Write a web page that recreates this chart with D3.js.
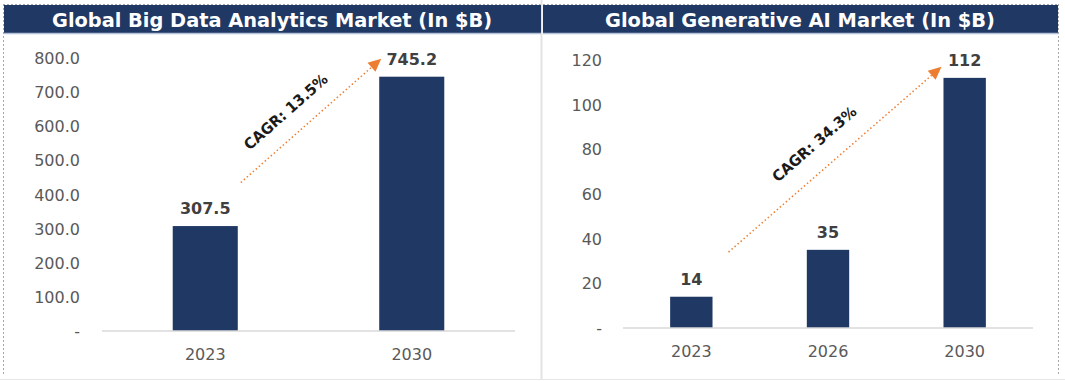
<!DOCTYPE html>
<html><head><meta charset="utf-8">
<script src="https://cdn.jsdelivr.net/npm/d3@7"></script>
<style>body{margin:0;background:#fff}svg{display:block}</style>
</head><body>
<svg id="c" width="1065" height="383"></svg>
<script>
// Data
const leftTitle = "Global Big Data Analytics Market (In $B)";
const leftCategories = ["2023", "2030"];
const leftValues = [307.5, 745.2];
const leftTicks = [0, 100, 200, 300, 400, 500, 600, 700, 800];
const leftCagr = "CAGR: 13.5%";

const rightTitle = "Global Generative AI Market (In $B)";
const rightCategories = ["2023", "2026", "2030"];
const rightValues = [14, 35, 112];
const rightTicks = [0, 20, 40, 60, 80, 100, 120];
const rightCagr = "CAGR: 34.3%";

const NAVY = "#1F3864", ORANGE = "#ED7D31", GRAY = "#595959";
const svg = d3.select("#c");

// frame
const g0 = svg.append("g");
g0.append("line").attr("x1",3.5).attr("x2",3.5).attr("y1",4).attr("y2",376).attr("stroke","#a6a6a6").attr("stroke-dasharray","2,2");
g0.append("line").attr("x1",3).attr("x2",541).attr("y1",4.5).attr("y2",4.5).attr("stroke","#a6a6a6").attr("stroke-dasharray","2,2");
g0.append("line").attr("x1",543).attr("x2",1059).attr("y1",4.5).attr("y2",4.5).attr("stroke","#a6a6a6").attr("stroke-dasharray","2,2");
g0.append("line").attr("x1",1058.5).attr("x2",1058.5).attr("y1",4).attr("y2",376).attr("stroke","#a6a6a6").attr("stroke-dasharray","2,2");
g0.append("line").attr("x1",541.5).attr("x2",541.5).attr("y1",0).attr("y2",380).attr("stroke","#e3e3e3").attr("stroke-width",2);
g0.append("line").attr("x1",0).attr("x2",1065).attr("y1",379.5).attr("y2",379.5).attr("stroke","#e6e6e6");

function panel(cfg){
  const g = svg.append("g");
  // title bar
  g.append("rect").attr("x",cfg.tx0).attr("y",5).attr("width",cfg.tx1-cfg.tx0).attr("height",28).attr("fill",NAVY);
  g.append("line").attr("x1",cfg.tx0).attr("x2",cfg.tx1).attr("y1",33.5).attr("y2",33.5).attr("stroke","#b4c0d8").attr("stroke-width",1.5);
  g.append("text").attr("x",cfg.tcx).attr("y",20).attr("text-anchor","middle").attr("dominant-baseline","central")
    .attr("fill","#fff").attr("font-family","DejaVu Sans").attr("font-weight","bold").attr("font-size",20)
    .attr("textLength",cfg.tlen).attr("lengthAdjust","spacingAndGlyphs").text(cfg.title);

  const x = d3.scaleBand().domain(cfg.cats).range(cfg.xr).paddingInner(cfg.pad).paddingOuter(cfg.pad/2);
  const y = d3.scaleLinear().domain([0, cfg.ticks[cfg.ticks.length-1]]).range(cfg.yr);

  // y axis labels
  const ya = d3.axisLeft(y).tickValues(cfg.ticks).tickSize(0).tickPadding(0).tickFormat(cfg.fmt);
  const yg = g.append("g").attr("transform",`translate(${cfg.ylabX},0)`).call(ya);
  yg.select(".domain").remove();
  yg.selectAll("text").attr("font-family","DejaVu Sans").attr("font-size",16).attr("fill",GRAY).attr("dy","0.35em");

  // bars
  g.selectAll("rect.bar").data(cfg.vals).join("rect").attr("class","bar")
    .attr("x",(d,i)=>x(cfg.cats[i])).attr("width",x.bandwidth())
    .attr("y",d=>y(d)).attr("height",d=>y(0)-y(d)).attr("fill",NAVY);

  // x axis
  const xa = d3.axisBottom(x).tickSize(0).tickPadding(18);
  const xg = g.append("g").attr("transform",`translate(0,${y(0)})`).call(xa);
  xg.select(".domain").attr("stroke","#d9d9d9").attr("stroke-width",1.5).attr("d",`M${cfg.xr[0]},0H${cfg.xr[1]}`);
  xg.selectAll("text").attr("font-family","DejaVu Sans").attr("font-size",16).attr("fill",GRAY);

  // value labels
  g.selectAll("text.val").data(cfg.vals).join("text").attr("class","val")
    .attr("x",(d,i)=>x(cfg.cats[i])+x.bandwidth()/2).attr("y",d=>y(d)-12)
    .attr("text-anchor","middle").attr("font-family","DejaVu Sans").attr("font-weight","bold")
    .attr("font-size",16).attr("fill","#404040").text(cfg.lblFmt);

  // CAGR arrow
  const a = cfg.arrow;
  const x1 = x(a.from)+x.bandwidth()+a.dx1, y1 = y(a.v1);
  const x2 = x(a.to)+a.dx2, y2 = y(a.v2);
  const len = Math.hypot(x2-x1,y2-y1), ux=(x2-x1)/len, uy=(y2-y1)/len;
  const ah = 13, aw = 6;
  g.append("line").attr("x1",x1).attr("y1",y1).attr("x2",x2-ux*ah).attr("y2",y2-uy*ah)
    .attr("stroke",ORANGE).attr("stroke-width",1.5).attr("stroke-dasharray","1.5,2.5");
  const bx = x2-ux*ah, by = y2-uy*ah;
  g.append("path").attr("d",`M${x2},${y2}L${bx-uy*aw},${by+ux*aw}L${bx+uy*aw},${by-ux*aw}Z`).attr("fill",ORANGE);
  const ang = Math.atan2(y2-y1,x2-x1)*180/Math.PI;
  const mx = x1+(x2-x1)*a.t + uy*a.off, my = y1+(y2-y1)*a.t - ux*a.off;
  g.append("text").attr("transform",`translate(${mx},${my}) rotate(${ang})`)
    .attr("text-anchor","middle").attr("dominant-baseline","central")
    .attr("font-family","DejaVu Sans").attr("font-weight","bold").attr("font-size",15)
    .attr("fill","#1a1a1a").attr("textLength",a.tl).attr("lengthAdjust","spacingAndGlyphs").text(cfg.cagr);
}

panel({title:leftTitle, tx0:4, tx1:541, tcx:272, tlen:440,
  cats:leftCategories, vals:leftValues, ticks:leftTicks,
  xr:[102,515], yr:[331,58], pad:0.685, ylabX:80,
  fmt:d=>d===0?"-":d3.format(".1f")(d), lblFmt:d=>d3.format(".1f")(d),
  cagr:leftCagr, arrow:{from:"2023",to:"2030",dx1:3,v1:435,dx2:2,v2:798,t:0.43,off:23,tl:106}});

panel({title:rightTitle, tx0:543, tx1:1058, tcx:800, tlen:390,
  cats:rightCategories, vals:rightValues, ticks:rightTicks,
  xr:[623,1033], yr:[328,60], pad:0.69, ylabX:602,
  fmt:d=>d===0?"-":String(d), lblFmt:d=>String(d),
  cagr:rightCagr, arrow:{from:"2023",to:"2030",dx1:16,v1:34,dx2:-2,v2:117,t:0.48,off:25,tl:106}});
</script>
</body></html>
